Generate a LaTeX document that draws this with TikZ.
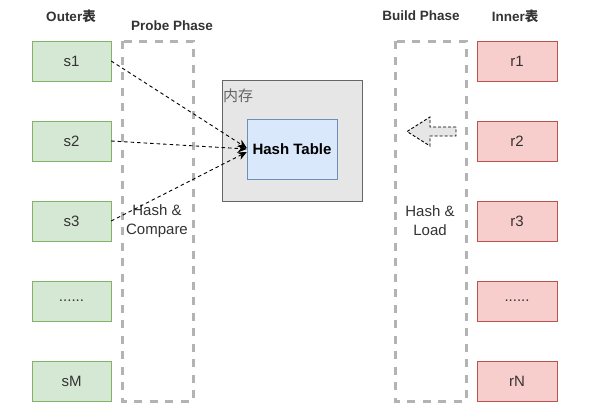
\documentclass[tikz,border=0pt]{standalone}
\usepackage{fontspec}
\setmainfont{Liberation Sans}
\newfontfamily\cjk{Noto Sans CJK SC}
\usetikzlibrary{arrows.meta}

\definecolor{outerfill}{HTML}{D5E8D4}
\definecolor{outerline}{HTML}{82B366}
\definecolor{innerfill}{HTML}{F8CECC}
\definecolor{innerline}{HTML}{B85450}
\definecolor{tablefill}{HTML}{DAE8FC}
\definecolor{tableline}{HTML}{6C8EBF}
\definecolor{memfill}{HTML}{E6E6E6}
\definecolor{memline}{HTML}{666666}
\definecolor{phaseline}{HTML}{B3B3B3}
\definecolor{textgray}{HTML}{333333}
\newcommand{\rowdots}{......}

\tikzstyle{outer}=[draw=outerline,fill=outerfill,minimum width=79pt,minimum height=40pt,inner sep=0pt,font=\fontsize{15}{19}\selectfont,text=textgray]
\tikzstyle{inner}=[draw=innerline,fill=innerfill,minimum width=80pt,minimum height=40pt,inner sep=0pt,font=\fontsize{15}{19}\selectfont,text=textgray]
\tikzstyle{phase}=[draw=phaseline,line width=3pt,dash pattern=on 8pt off 7.5pt]
\tikzstyle{title}=[font=\bfseries\fontsize{13.5}{16}\selectfont,text=textgray,inner sep=0pt]
\tikzstyle{note}=[font=\fontsize{15}{19}\selectfont,text=textgray,align=center,inner sep=1pt]
\tikzstyle{probe} = [draw=black,line width=0.9pt,dash pattern=on 3.5pt off 3pt,-{Stealth[length=9pt,width=8pt]}]

\begin{document}
\begin{tikzpicture}[x=1pt,y=-1pt]
  \useasboundingbox (0,0) rectangle (599,418);
  % First we draw the phase frames and the memory
  \draw[phase] (122,41) rectangle (193,401);
  \draw[phase] (395,41) rectangle (466,401);
  \node[draw=memline,fill=memfill,minimum width=140pt,minimum height=121pt,inner sep=0pt] (mem) at (292,140.5) {};
  \node[anchor=north west,inner sep=0pt,text=memline,font=\cjk\fontsize{15}{18}\selectfont] (memlabel) at (223,89) {内存};
  \node[draw=tableline,fill=tablefill,minimum width=90pt,minimum height=60pt,inner sep=0pt,font=\bfseries\fontsize{15}{18}\selectfont] (ht) at (292,149) {Hash Table};
  % Then the rows of both tables
  \foreach \pos/\name/\la in {{(71.5,61)/s1/s1}, {(71.5,141)/s2/s2}, {(71.5,221)/s3/s3}, {(71.5,301)/sdots/\rowdots}, {(71.5,381)/sM/sM}}
    \node[outer] (\name) at \pos {\la};
  \foreach \pos/\name/\la in {{(517,61)/r1/r1}, {(517,141)/r2/r2}, {(517,221)/r3/r3}, {(517,301)/rdots/\rowdots}, {(517,381)/rN/rN}}
    \node[inner] (\name) at \pos {\la};
  % Titles
  \node[title] (outertitle) at (71,16) {Outer{\cjk 表}};
  \node[title] (probetitle) at (172,26) {Probe Phase};
  \node[title] (buildtitle) at (421,16) {Build Phase};
  \node[title] (innertitle) at (515,16) {Inner{\cjk 表}};
  \node[note] (compare) at (157,221) {Hash \&\\Compare};
  \node[note] (load) at (430,221) {Hash \&\\Load};
  % Probe side: rows go to the hash table
  \path[probe] (s1.east) -- ([yshift=1pt]ht.west);
  \path[probe] (s2.east) -- (ht.west);
  \path[probe] (s3.east) -- ([yshift=-3pt]ht.west);
  % Build side: block arrow
  \draw[fill=memfill,draw=black,line width=0.9pt,dash pattern=on 3pt off 2pt] (456,127) -- (430,127) -- (430,117) -- (407,131.5) -- (430,146) -- (430,136) -- (456,136) -- cycle;
\end{tikzpicture}
\end{document}
